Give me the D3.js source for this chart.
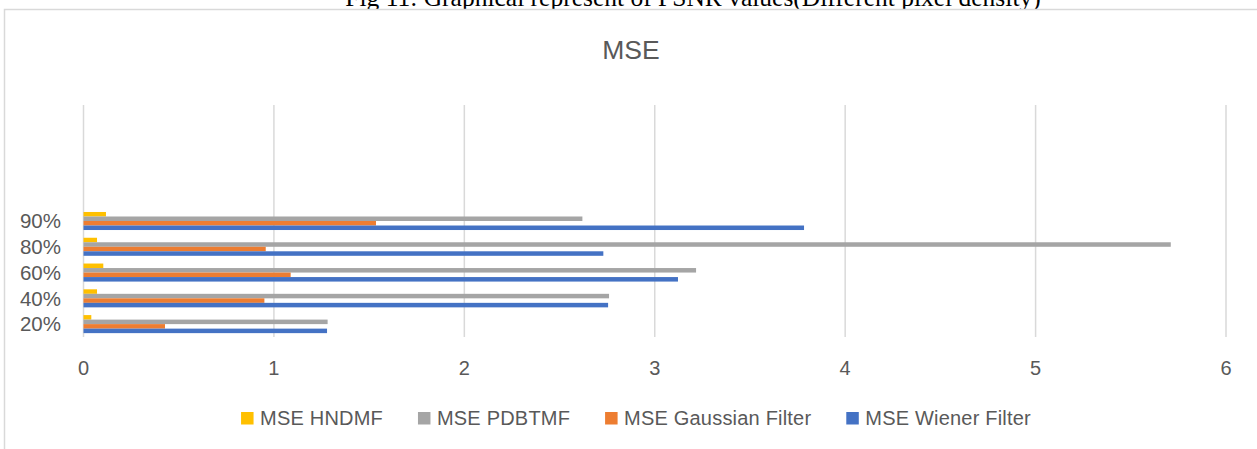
<!DOCTYPE html>
<html>
<head>
<meta charset="utf-8">
<script src="https://cdn.jsdelivr.net/npm/d3@7"></script>
<style>
  html, body { margin: 0; padding: 0; background: #ffffff; }
  svg { display: block; }
</style>
</head>
<body>
<div id="chart"></div>
<script>
// categories, bottom to top (Excel draws the first category at the bottom)
const categories = ['20%', '40%', '60%', '80%', '90%'];
const slotCount = 9; // the source sheet had 4 empty rows above 90%

const seriesNames = ['MSE HNDMF', 'MSE PDBTMF', 'MSE Gaussian Filter', 'MSE Wiener Filter'];
const seriesColors = ['#FFC000', '#A5A5A5', '#ED7D31', '#4472C4'];

const hndmf = [0.041, 0.071, 0.104, 0.071, 0.118];
const pdbtmf = [1.282, 2.76, 3.217, 5.71, 2.62];
const gaussian = [0.428, 0.95, 1.088, 0.957, 1.536];
const wiener = [1.279, 2.755, 3.122, 2.73, 3.784];
const seriesValues = [hndmf, pdbtmf, gaussian, wiener];

const xTicks = [0, 1, 2, 3, 4, 5, 6];

const width = 1257;
const height = 449;
const textColor = '#595959';
const gridColor = '#D9D9D9';
const font = '"Liberation Sans", Arial, sans-serif';

const plot = { left: 83.5, right: 1226, top: 105, bottom: 337 };

const svg = d3.select('#chart')
  .append('svg')
  .attr('width', width)
  .attr('height', height)
  .attr('viewBox', `0 0 ${width} ${height}`);

/* Caption above the chart frame (clipped by the page top, as in the source) */
svg.append('text')
  .attr('x', 693)
  .attr('y', 6)
  .attr('text-anchor', 'middle')
  .attr('font-family', '"Liberation Serif", "Times New Roman", serif')
  .attr('font-size', 25.5)
  .attr('fill', '#000')
  .text('Fig 11: Graphical represent of PSNR values(Different pixel density)');

/* Chart frame */
svg.append('rect')
  .attr('x', 4.5)
  .attr('y', 9.5)
  .attr('width', 1300)
  .attr('height', 500)
  .attr('fill', '#ffffff')
  .attr('stroke', gridColor)
  .attr('stroke-width', 1.5);

/* Title */
svg.append('text')
  .attr('x', 631)
  .attr('y', 58.5)
  .attr('text-anchor', 'middle')
  .attr('font-family', font)
  .attr('font-size', 26.5)
  .attr('fill', textColor)
  .text('MSE');

const x = d3.scaleLinear().domain([0, 6]).range([plot.left, plot.right]);

const y = d3.scaleBand()
  .domain(d3.range(slotCount))
  .range([plot.bottom, plot.top])
  .paddingInner(0.3)
  .paddingOuter(0.15);

const ySub = d3.scaleBand()
  .domain(d3.range(seriesNames.length))
  .range([0, y.bandwidth()]);

/* Vertical gridlines */
svg.append('g')
  .selectAll('line')
  .data(xTicks)
  .join('line')
  .attr('x1', (d) => x(d))
  .attr('x2', (d) => x(d))
  .attr('y1', plot.top)
  .attr('y2', plot.bottom)
  .attr('stroke', gridColor)
  .attr('stroke-width', 1.5);

/* X tick labels */
svg.append('g')
  .selectAll('text')
  .data(xTicks)
  .join('text')
  .attr('x', (d) => x(d))
  .attr('y', 375)
  .attr('text-anchor', 'middle')
  .attr('font-family', font)
  .attr('font-size', 20)
  .attr('fill', textColor)
  .text((d) => d);

/* Y category labels */
svg.append('g')
  .selectAll('text')
  .data(categories)
  .join('text')
  .attr('x', 61)
  .attr('y', (d, i) => y(i) + y.bandwidth() / 2)
  .attr('dy', '0.36em')
  .attr('text-anchor', 'end')
  .attr('font-family', font)
  .attr('font-size', 20.5)
  .attr('fill', textColor)
  .text((d) => d);

/* Bars */
seriesValues.forEach((values, s) => {
  svg.append('g')
    .selectAll('rect')
    .data(values)
    .join('rect')
    .attr('x', x(0))
    .attr('y', (d, i) => y(i) + ySub(s))
    .attr('width', (d) => x(d) - x(0))
    .attr('height', ySub.bandwidth())
    .attr('fill', seriesColors[s]);
});

/* Legend */
const legend = svg.append('g');
const items = legend.selectAll('g')
  .data(seriesNames)
  .join('g');

items.append('rect')
  .attr('width', 12.5)
  .attr('height', 12.5)
  .attr('y', -12.5)
  .attr('fill', (d, i) => seriesColors[i]);

items.append('text')
  .attr('x', 19)
  .attr('font-family', font)
  .attr('font-size', 20)
  .attr('letter-spacing', 0.2)
  .attr('fill', textColor)
  .text((d) => d);

const itemGap = 35;
let cursor = 0;
items.each(function () {
  const g = d3.select(this);
  g.attr('transform', `translate(${cursor},0)`);
  cursor += 19 + g.select('text').node().getComputedTextLength() + itemGap;
});
const legendWidth = cursor - itemGap;
legend.attr('transform', `translate(${636 - legendWidth / 2},424.5)`);
</script>
</body>
</html>
